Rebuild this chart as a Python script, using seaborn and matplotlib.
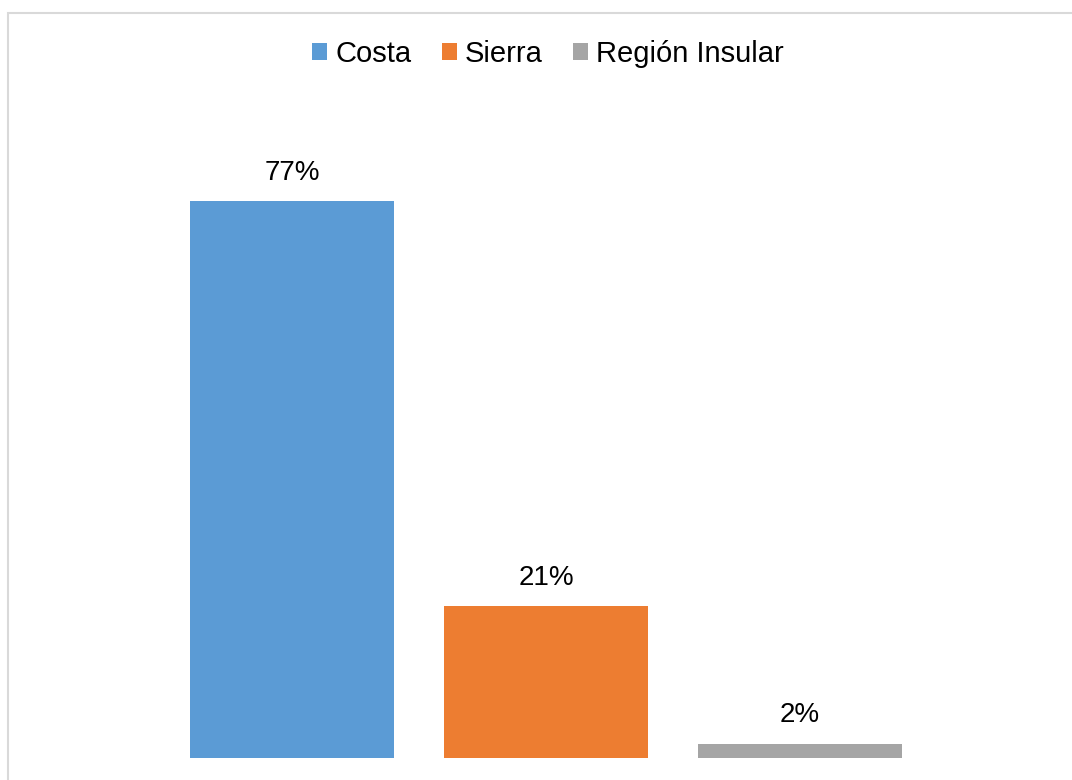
import matplotlib
matplotlib.use("Agg")
import matplotlib.pyplot as plt
import seaborn as sns
import pandas as pd
from matplotlib.patches import Rectangle, Patch

categories = ["Costa", "Sierra", "Región Insular"]
values = [77, 21, 2]
colors = ["#5B9BD5", "#ED7D31", "#A5A5A5"]

sns.set_style("white")
plt.rcParams['font.family'] = ['Liberation Sans', 'DejaVu Sans']

df = pd.DataFrame({"region": categories, "pct": values})

fig = plt.figure(figsize=(10.72, 7.8), dpi=100)
ax = fig.add_axes([165/1072, 22/780, 762/1072, 651/780])
sns.barplot(data=df, x="region", y="pct", hue="region", palette=colors,
            dodge=False, width=0.803, legend=False, ax=ax, saturation=1,
            linewidth=0)
ax.set_xlim(-0.5, 2.5)
ax.set_ylim(0, 90)
for c in ax.containers:
    ax.bar_label(c, fmt="%d%%", fontsize=20, padding=11, color="#000000")
ax.set_axis_off()

handles = [Patch(facecolor=col, edgecolor="none") for col in colors]
leg = fig.legend(handles, categories, loc="center", bbox_to_anchor=(548/1072, 1 - 54/780),
                 ncol=3, frameon=False, fontsize=21, handlelength=0.52, handleheight=0.52,
                 handletextpad=0.28, columnspacing=1.03)
for t in leg.get_texts():
    t.set_color("#000000")

fig.patches.append(Rectangle((8/1072, -0.1), 1.2, 1 - 13/780 + 0.1, transform=fig.transFigure,
                             fill=False, edgecolor="#D9D9D9", linewidth=1.5))
fig.savefig("out.png", dpi=100)
